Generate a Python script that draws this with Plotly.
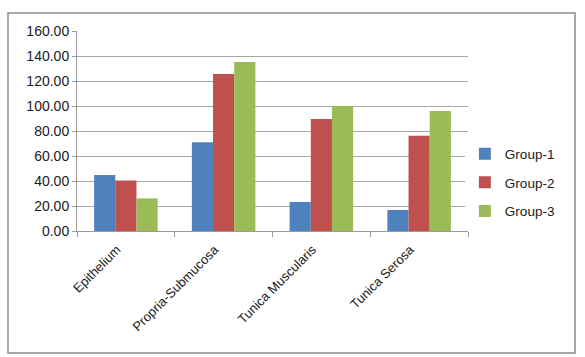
import plotly.graph_objects as go

categories = ["Epithelium", "Propria-Submucosa", "Tunica Muscularis", "Tunica Serosa"]
group1 = [44.8, 71.0, 23.2, 16.8]
group2 = [40.5, 125.6, 89.6, 76.3]
group3 = [26.1, 135.2, 100.0, 96.0]
series_names = ["Group-1", "Group-2", "Group-3"]
colors = ["#4F81BD", "#C0504D", "#9BBB59"]
y_ticks = [0, 20, 40, 60, 80, 100, 120, 140, 160]

fig = go.Figure()
for name, vals, col in zip(series_names, [group1, group2, group3], colors):
    fig.add_trace(go.Bar(x=categories, y=vals, name=name, marker_color=col,
                         marker_line_width=0, legendgroup=name))

ff = "Liberation Sans, Arial, sans-serif"
fig.update_layout(
    width=585, height=357,
    margin=dict(l=77, r=117, t=31, b=126),
    paper_bgcolor="white", plot_bgcolor="white",
    barmode="group", bargap=0.35, bargroupgap=0,
    font=dict(family=ff, size=13, color="#1a1a1a"),
    showlegend=True,
    legend=dict(x=0.992, y=0.2425, xanchor="left", yanchor="middle",
                font=dict(family=ff, size=13.5, color="#1a1a1a"),
                itemwidth=30, tracegroupgap=8, traceorder="grouped"),
    xaxis=dict(showline=True, linecolor="#9a9a9a", linewidth=1,
               ticks="outside", tickson="boundaries", ticklen=5, tickcolor="#9a9a9a",
               tickangle=-45, showgrid=False, tickfont=dict(size=13),
               ticklabelshift=-9, ticklabelstandoff=5),
    yaxis=dict(range=[0, 160], tickvals=y_ticks,
               ticktext=[f"{v:.2f}" for v in y_ticks],
               tickfont=dict(size=14),
               showgrid=True, gridcolor="#a6a6a6", gridwidth=1,
               showline=True, linecolor="#9a9a9a", linewidth=1,
               ticks="outside", ticklen=4, tickcolor="#9a9a9a", zeroline=False),
    shapes=[dict(type="rect", xref="paper", yref="paper",
                 x0=-0.1765, x1=1.2737, y0=-0.61, y1=1.09,
                 line=dict(color="#8c8c8c", width=1.5), fillcolor="rgba(0,0,0,0)")],
)
fig.write_html("out.html")
